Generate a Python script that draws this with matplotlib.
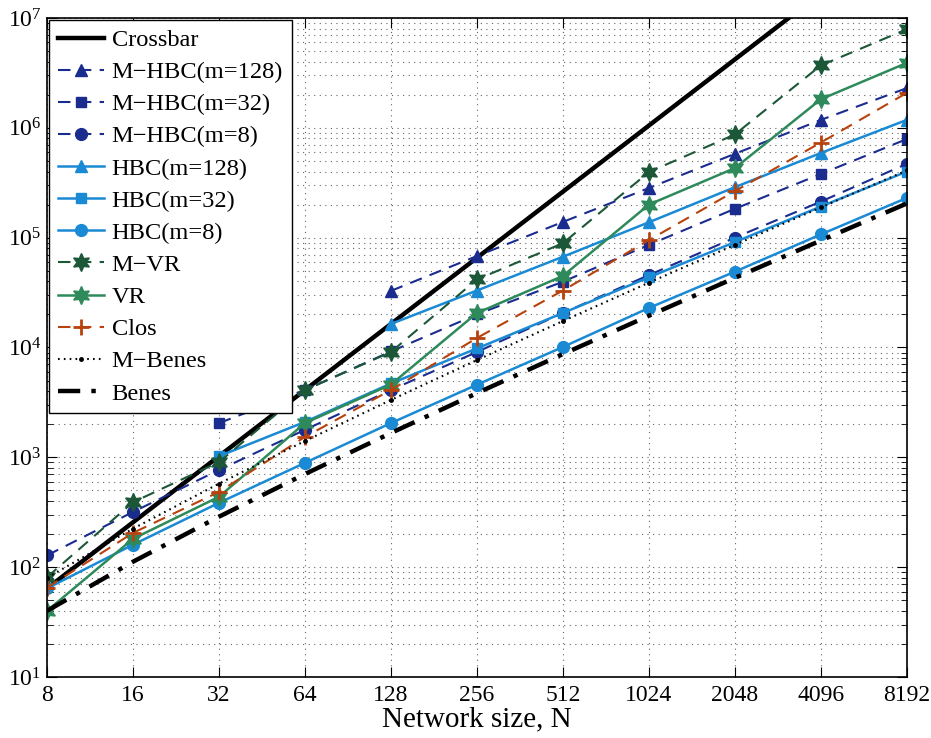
import matplotlib
matplotlib.use("Agg")
import matplotlib.pyplot as plt
from matplotlib.ticker import LogLocator, FixedLocator, FixedFormatter, NullFormatter

plt.rcParams['font.family'] = ['Liberation Serif', 'DejaVu Serif']
plt.rcParams['mathtext.fontset'] = 'custom'
plt.rcParams['mathtext.rm'] = 'Liberation Serif'
plt.rcParams['mathtext.it'] = 'Liberation Serif:italic'

# Network sizes
N = [8, 16, 32, 64, 128, 256, 512, 1024, 2048, 4096, 8192]
N_labels = ['8', '16', '32', '64', '128', '256', '512', '1024', '2048', '4096', '8192']

# Crosspoint counts per architecture
crossbar = [64, 256, 1024, 4096, 16384, 65536, 262144, 1048576, 4194304, 16777216, 67108864]

N_m128 = [128, 256, 512, 1024, 2048, 4096, 8192]
mhbc_128 = [32768, 68000, 139000, 283000, 580000, 1180000, 2300000]
hbc_128 = [16384, 33000, 67000, 138000, 288000, 590000, 1180000]

N_m32 = [32, 64, 128, 256, 512, 1024, 2048, 4096, 8192]
mhbc_32 = [2048, 4096, 9200, 20000, 39700, 86000, 183000, 380000, 790000]
hbc_32 = [1024, 2100, 4700, 9800, 20600, 43500, 91000, 192000, 400000]

mhbc_8 = [128, 318, 767, 1780, 4100, 9100, 20600, 45600, 100000, 213000, 470000]
hbc_8 = [64, 160, 385, 890, 2050, 4580, 10100, 22900, 49000, 107000, 230000]

mvr = [81, 390, 905, 4100, 9100, 41600, 89000, 395000, 870000, 3700000, 7900000]
vr = [40, 181, 437, 2050, 4600, 20600, 44800, 200000, 430000, 1820000, 3900000]

clos = [65, 205, 484, 1535, 4100, 12200, 33000, 95000, 265000, 735000, 2080000]
mbenes = [80, 224, 576, 1408, 3328, 7680, 17408, 38912, 86016, 188416, 409600]
benes = [40, 112, 288, 704, 1664, 3840, 8704, 19456, 43008, 94208, 204800]

c_mhbc = '#1b2c8f'
c_hbc = '#1a8ad4'
c_mvr = '#1c5838'
c_vr = '#2e8a5a'
c_clos = '#b8420e'
hexagram = (6, 1, 0)

fig = plt.figure(figsize=(9.31, 7.38), dpi=100)
ax = fig.add_axes([0.0505, 0.0827, 0.9235, 0.8929])

ms = 8.5
dash = (0, (6, 4))
ax.plot(N, crossbar, color='black', lw=3.2, label='Crossbar')
ax.plot(N_m128, mhbc_128, color=c_mhbc, ls=dash, lw=1.5, marker='^', ms=ms, label='M\u2212HBC(m=128)')
ax.plot(N_m32, mhbc_32, color=c_mhbc, ls=dash, lw=1.5, marker='s', ms=7.5, label='M\u2212HBC(m=32)')
ax.plot(N, mhbc_8, color=c_mhbc, ls=dash, lw=1.5, marker='o', ms=ms, label='M\u2212HBC(m=8)')
ax.plot(N_m128, hbc_128, color=c_hbc, ls='-', lw=1.8, marker='^', ms=ms, label='HBC(m=128)')
ax.plot(N_m32, hbc_32, color=c_hbc, ls='-', lw=1.8, marker='s', ms=7.5, label='HBC(m=32)')
ax.plot(N, hbc_8, color=c_hbc, ls='-', lw=1.8, marker='o', ms=ms, label='HBC(m=8)')
ax.plot(N, mvr, color=c_mvr, ls=dash, lw=1.5, marker=hexagram, ms=13, label='M\u2212VR')
ax.plot(N, vr, color=c_vr, ls='-', lw=1.8, marker=hexagram, ms=13, label='VR')
ax.plot(N, clos, color=c_clos, ls=dash, lw=1.5, marker='+', ms=11, mew=2, label='Clos')
ax.plot(N, mbenes, color='black', ls=(0, (0.8, 2)), lw=1.5, marker='.', ms=5, label='M\u2212Benes')
ax.plot(N, benes, color='black', ls=(0, (5, 2.5, 1, 2.5)), lw=3.2, label='Benes')

ax.set_xscale('log', base=2)
ax.set_yscale('log')
ax.set_xlim(8, 8192)
ax.set_ylim(10, 1e7)

ax.xaxis.set_major_locator(FixedLocator(N))
ax.xaxis.set_major_formatter(FixedFormatter(N_labels))
ax.xaxis.set_minor_locator(FixedLocator([]))
ax.xaxis.get_offset_text().set_visible(False)
ax.yaxis.get_offset_text().set_visible(False)
ax.yaxis.set_major_locator(LogLocator(base=10, numticks=10))
ax.yaxis.set_minor_locator(LogLocator(base=10, subs=range(2, 10), numticks=20))
ax.yaxis.set_minor_formatter(NullFormatter())

ax.tick_params(which='both', direction='in', top=True, right=True, labelsize=17)
ax.tick_params(which='major', length=7, width=0.8)
ax.tick_params(which='minor', length=4, width=0.6)
ax.tick_params(axis='x', pad=6)
ax.tick_params(axis='y', pad=4)

ax.grid(True, which='major', ls=(0, (1, 4)), color='#666666', lw=0.8)
ax.grid(True, which='minor', axis='y', ls=(0, (1, 4)), color='#666666', lw=0.8)

for s in ax.spines.values():
    s.set_linewidth(1.2)

ax.set_xlabel('Network size, N', fontsize=21, labelpad=0)

leg = ax.legend(loc='upper left', fontsize=17.6, fancybox=False, framealpha=1,
                edgecolor='black', borderaxespad=0.1, handlelength=1.9,
                labelspacing=0.41, handletextpad=0.3, borderpad=0.35)
leg.get_frame().set_linewidth(1.0)

fig.savefig('out.png', dpi=100)
